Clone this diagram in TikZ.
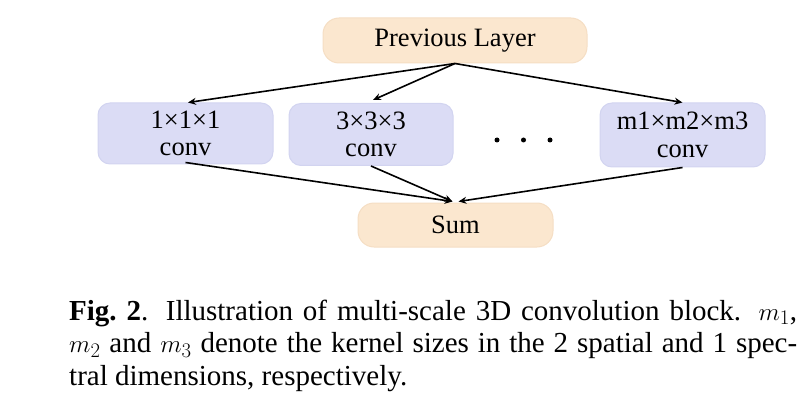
\documentclass[tikz,border=0pt]{standalone}
\usepackage{fontspec}
\setmainfont{Liberation Serif}
\usetikzlibrary{arrows.meta,calc}
\definecolor{peach}{RGB}{251,231,207}
\definecolor{peachedge}{RGB}{245,222,196}
\definecolor{lav}{RGB}{219,220,245}
\definecolor{lavedge}{RGB}{210,212,240}
\begin{document}
\begin{tikzpicture}[x=1pt,y=-1pt,
  pill/.style={fill=peach,draw=peachedge,line width=1pt,rounded corners=16pt,
    font=\fontsize{26.5}{27}\selectfont,inner sep=0pt},
  convbox/.style={fill=lav,draw=lavedge,line width=1pt,rounded corners=12pt,
    font=\fontsize{26.5}{27.5}\selectfont,align=center,inner sep=0pt},
  arr/.style={line width=1.6pt,-{Stealth[length=8pt,width=7pt]}}]
\useasboundingbox (0,0) rectangle (810,414);
\node[pill,minimum width=264,minimum height=45] (prev) at (455,40.5) {Previous Layer};
\node[convbox,minimum width=175,minimum height=61] (c1) at (185.5,133.5) {1×1×1\\conv};
\node[convbox,minimum width=164,minimum height=62] (c2) at (371,134.5) {3×3×3\\conv};
\node[convbox,minimum width=165,minimum height=64] (cm) at (682.5,135) {m1×m2×m3\\conv};
\node[pill,minimum width=195,minimum height=44] (sum) at (455.5,225) {Sum};
\fill (497,140) circle (2.5) (523.5,140) circle (2.5) (550,140) circle (2.5);
\coordinate (s1) at ($(sum.north)+(-3,-1)$);
\coordinate (s2) at ($(sum.north)+(3,-1)$);
\draw[arr] (prev.south) -- ($(c1.north)+(2.5,0)$);
\draw[arr] (prev.south) -- ($(c2.north)+(2,-3)$);
\draw[arr] (prev.south) -- (cm.north);
\draw[arr] ($(c1.south)+(0,-2)$) -- (s1);
\draw[arr] (c2.south) -- (s1);
\draw[arr] (cm.south) -- (s2);
\node[anchor=base west,text width=728pt,inner sep=0pt,align=justify,
  font=\fontsize{29}{32.5}\selectfont] (cap) at (69,320)
  {\textbf{Fig.~2}. Illustration of multi-scale 3D convolution block. $m_1$,\linebreak
   $m_2$ and $m_3$ denote the kernel sizes in the 2 spatial and 1 spec-\linebreak
   tral dimensions, respectively.};
\end{tikzpicture}
\end{document}
